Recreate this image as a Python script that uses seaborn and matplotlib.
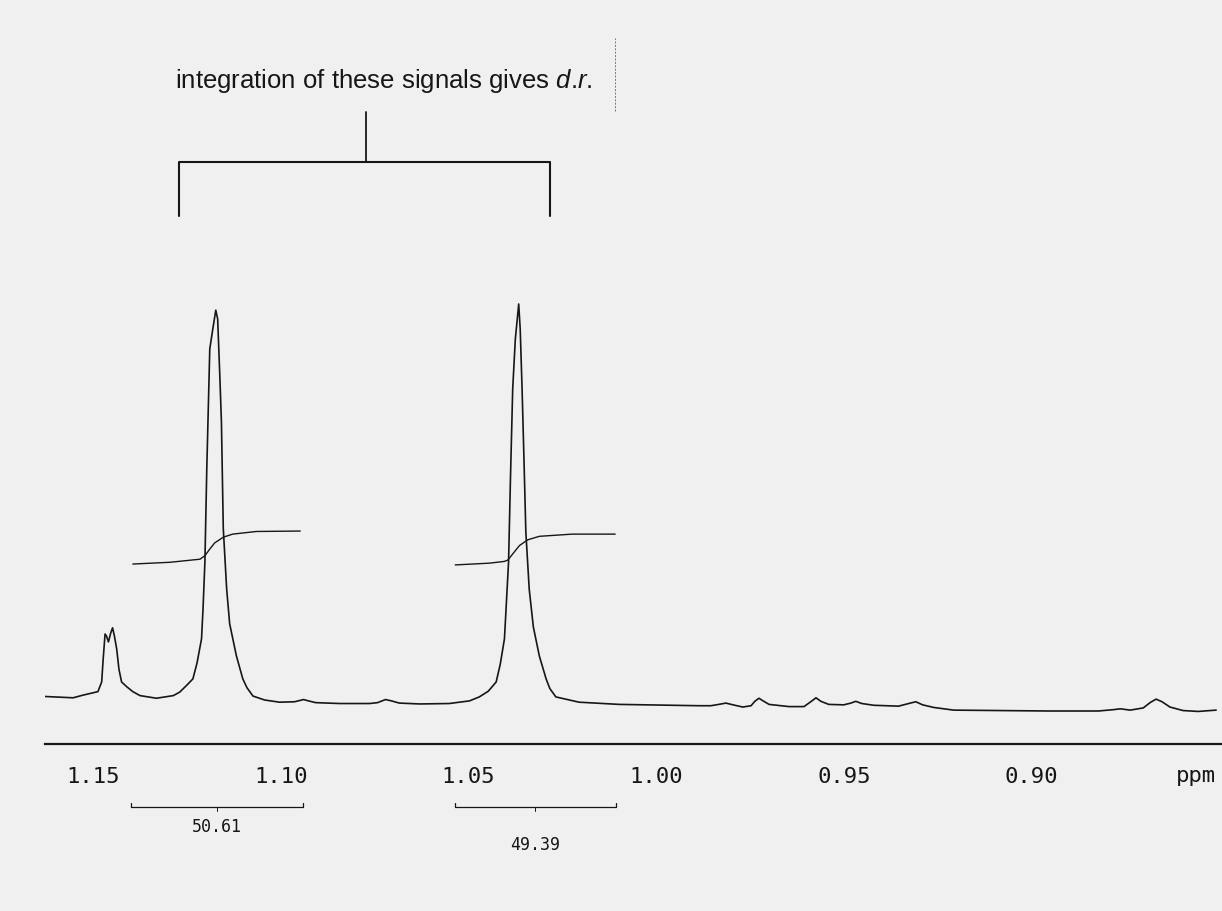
import numpy as np
import pandas as pd
import matplotlib
matplotlib.use("Agg")
import matplotlib.pyplot as plt
import seaborn as sns
from matplotlib.ticker import FixedLocator, MultipleLocator, FixedFormatter
import matplotlib.transforms as mtransforms

# ---------------- data ----------------
spectrum_ppm = [
    1.1628, 1.1553, 1.1527, 1.1487, 1.1477, 1.1473, 1.1468, 1.1464, 1.1459, 1.1453,
    1.1448, 1.1443, 1.1437, 1.1431, 1.1424, 1.1410, 1.1394, 1.1375, 1.1331, 1.1286,
    1.1269, 1.1251, 1.1234, 1.1223, 1.1211, 1.1207, 1.1202, 1.1197, 1.1191, 1.1189,
    1.1181, 1.1173, 1.1168, 1.1162, 1.1158, 1.1153, 1.1144, 1.1136, 1.1118, 1.1101,
    1.1090, 1.1074, 1.1043, 1.1003, 1.0963, 1.0949, 1.0939, 1.0926, 1.0907, 1.0843,
    1.0763, 1.0742, 1.0721, 1.0705, 1.0684, 1.0630, 1.0551, 1.0497, 1.0471, 1.0447,
    1.0426, 1.0415, 1.0404, 1.0399, 1.0393, 1.0388, 1.0382, 1.0375, 1.0366, 1.0362,
    1.0357, 1.0352, 1.0347, 1.0338, 1.0327, 1.0311, 1.0293, 1.0283, 1.0267, 1.0231,
    1.0205, 1.0098, 0.9886, 0.9854, 0.9833, 0.9814, 0.9795, 0.9769, 0.9747, 0.9737,
    0.9726, 0.9715, 0.9699, 0.9646, 0.9606, 0.9588, 0.9574, 0.9561, 0.9540, 0.9500,
    0.9481, 0.9468, 0.9452, 0.9420, 0.9354, 0.9327, 0.9308, 0.9290, 0.9260, 0.9207,
    0.8955, 0.8822, 0.8782, 0.8763, 0.8737, 0.8702, 0.8684, 0.8668, 0.8652, 0.8631,
    0.8596, 0.8556, 0.8508,
]
spectrum_intensity = [
    10.8, 10.5, 11.1, 11.9, 14.1, 19.3, 25.0, 24.5, 23.2, 25.2,
    26.4, 24.5, 21.6, 17.0, 14.1, 13.0, 11.9, 11.0, 10.4, 11.0,
    11.8, 13.3, 14.8, 18.4, 23.9, 30.7, 41.4, 62.5, 83.0, 89.8,
    94.3, 98.6, 96.6, 83.0, 73.2, 48.9, 35.2, 27.3, 20.0, 14.8,
    12.8, 10.9, 10.0, 9.5, 9.6, 9.9, 10.1, 9.8, 9.4, 9.2,
    9.2, 9.4, 10.1, 9.8, 9.3, 9.1, 9.2, 9.8, 10.7, 12.0,
    14.1, 18.2, 23.9, 31.8, 41.4, 60.2, 80.7, 92.0, 100.0, 94.3,
    80.7, 64.8, 48.2, 35.2, 26.6, 20.0, 14.8, 12.6, 10.7, 10.0,
    9.5, 9.0, 8.7, 8.7, 9.0, 9.3, 8.9, 8.4, 8.7, 9.7,
    10.4, 9.8, 9.0, 8.5, 8.5, 9.6, 10.5, 9.7, 9.0, 8.9,
    9.3, 9.7, 9.2, 8.8, 8.6, 9.2, 9.6, 8.9, 8.3, 7.7,
    7.5, 7.5, 7.8, 8.0, 7.7, 8.2, 9.4, 10.2, 9.6, 8.4,
    7.6, 7.4, 7.7,
]

integral1_ppm = [1.1394, 1.1295, 1.1215, 1.1202, 1.1189, 1.1176, 1.1153, 1.1128, 1.1065, 1.0948]
integral1_value = [40.9, 41.3, 42.0, 42.8, 44.3, 45.7, 47.0, 47.7, 48.3, 48.4]
integral2_ppm = [1.0535, 1.0444, 1.0404, 1.0395, 1.0380, 1.0364, 1.0342, 1.0311, 1.0223, 1.0109]
integral2_value = [40.7, 41.1, 41.5, 41.8, 43.4, 45.1, 46.4, 47.2, 47.7, 47.7]

integral_labels = ["50.61", "49.39"]
integral_starts = [1.1399, 1.0537]
integral_ends = [1.0941, 1.0106]

major_ticks = [1.15, 1.10, 1.05, 1.00, 0.95, 0.90, 0.85]
tick_labels = ["1.15", "1.10", "1.05", "1.00", "0.95", "0.90", ""]
axis_unit = "ppm"

annotation_text = r"integration of these signals gives $\it{d}$.$\it{r}$."

# ---------------- styling ----------------
sns.set_theme(style="white")
plt.rcParams["font.family"] = ["Liberation Sans", "DejaVu Sans"]
plt.rcParams["mathtext.fontset"] = "custom"
plt.rcParams["mathtext.rm"] = "Liberation Sans"
plt.rcParams["mathtext.it"] = "Liberation Sans:italic"

bg = "#f0f0f0"
ink = "#161616"

fig = plt.figure(figsize=(12.22, 9.12), dpi=100, facecolor=bg)
ax = fig.add_axes([45 / 1222, (912 - 745) / 912, (1221 - 45) / 1222, 745 / 912])
ax.set_facecolor(bg)

spec = pd.DataFrame({"ppm": spectrum_ppm, "intensity": spectrum_intensity})
int1 = pd.DataFrame({"ppm": integral1_ppm, "value": integral1_value})
int2 = pd.DataFrame({"ppm": integral2_ppm, "value": integral2_value})

sns.lineplot(data=spec, x="ppm", y="intensity", sort=False, estimator=None,
             color=ink, linewidth=1.2, ax=ax)
for d in (int1, int2):
    sns.lineplot(data=d, x="ppm", y="value", sort=False, estimator=None,
                 color=ink, linewidth=1.0, ax=ax)

ax.set_xlim(1.1628, 0.8495)
ax.set_ylim(0, 745 / 4.4)
ax.set_xlabel("")
ax.set_ylabel("")

for s in ("top", "left", "right"):
    ax.spines[s].set_visible(False)
ax.spines["bottom"].set_linewidth(1.6)
ax.spines["bottom"].set_color(ink)

ax.xaxis.set_major_locator(FixedLocator(major_ticks))
ax.xaxis.set_major_formatter(FixedFormatter(tick_labels))
ax.xaxis.set_minor_locator(MultipleLocator(0.01))
ax.tick_params(axis="x", which="major", direction="out", length=8, width=1.0,
               color=ink, pad=8, labelsize=16, labelcolor=ink)
ax.tick_params(axis="x", which="minor", direction="out", length=4, width=0.8, color=ink)
ax.tick_params(axis="y", left=False, labelleft=False)
for lab in ax.get_xticklabels():
    lab.set_fontfamily("DejaVu Sans Mono")
ax.set_yticks([])

trans = mtransforms.blended_transform_factory(ax.transData, ax.transAxes)
ax.text(0.8561, -0.041, axis_unit, transform=trans, ha="center", va="center",
        fontsize=16, family="DejaVu Sans Mono", color=ink)

# integration brackets below the axis
label_y = [-0.110, -0.134]
for x0, x1, lab, ly in zip(integral_starts, integral_ends, integral_labels, label_y):
    yb = -0.0846
    ax.plot([x0, x0, x1, x1], [yb + 0.0055, yb, yb, yb + 0.0055], transform=trans,
            color=ink, lw=0.9, clip_on=False)
    xm = (x0 + x1) / 2
    ax.plot([xm, xm], [yb, yb - 0.006], transform=trans, color=ink, lw=0.7, clip_on=False)
    ax.text(xm, ly, lab, transform=trans, ha="center", va="center",
            fontsize=12, family="DejaVu Sans Mono", color=ink)

# annotation bracket above the two signals
ax.plot([1.1271, 1.1271, 1.0282, 1.0282], [120.0, 132.3, 132.3, 120.0],
        color=ink, lw=1.5, clip_on=False)
ax.plot([1.0772, 1.0772], [132.3, 143.6], color=ink, lw=1.3)
ax.text(1.0726, 150.8, annotation_text, ha="center", va="center",
        fontsize=18.5, color=ink)
ax.plot([1.0109, 1.0109], [143.9, 160.5], color="#777777", lw=0.7,
        linestyle=(0, (2, 1.5)))

fig.savefig("out.png", dpi=100, facecolor=bg)
